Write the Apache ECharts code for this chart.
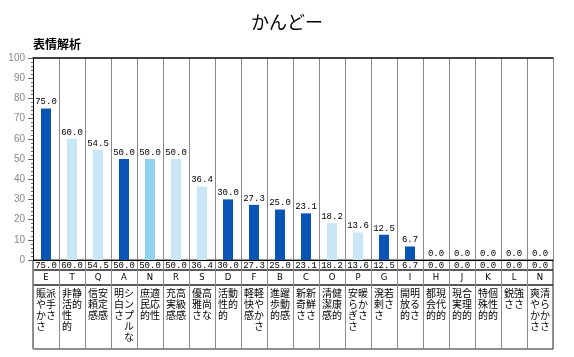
<!DOCTYPE html>
<html><head><meta charset="utf-8">
<script src="https://cdn.jsdelivr.net/npm/echarts@6/dist/echarts.min.js"></script>
<style>html,body{margin:0;padding:0;background:#fff}#c{width:574px;height:357px}</style>
</head><body><div id="c"></div>
<script>
const categories = ['E','T','Q','A','N','R','S','D','F','B','C','O','P','G','I','H','J','K','L','N'];
const values = [75.0,60.0,54.5,50.0,50.0,50.0,36.4,30.0,27.3,25.0,23.1,18.2,13.6,12.5,6.7,0.0,0.0,0.0,0.0,0.0];
const wordA = ['派手さ','静的','安定感','シンプルな','適応性','高級感','高尚な','動的','軽やかさ','躍動感','新鮮さ','健康的','暖かさ','若さ','明るさ','現代的','合理的','個性的','強さ','清らかさ'];
const wordB = ['賑やかさ','非活性的','信頼感','明白さ','庶民的','充実感','優雅さ','活性的','軽快感','進歩的','新奇さ','清潔感','安らぎさ','溌剌さ','開放的','都会的','現実的','特殊的','鋭さ','爽やかさ'];
const yTicks = [0,10,20,30,40,50,60,70,80,90,100];

// style only
const tone = ['d','l','l','d','m','l','l','d','d','d','d','l','l','d','d','d','d','d','d','d'];
const toneColor = {d:'#0a55b4', l:'#c8e6f5', m:'#8fd3f0'};

function vertical(i){
  const a = Array.from(wordA[i]), b = Array.from(wordB[i]);
  const n = Math.max(a.length, b.length);
  const rows = [];
  for (let k=0;k<n;k++) rows.push((b[k]||'\u3000') + (a[k]||'\u3000'));
  return rows.join('\n');
}
const idx = categories.map((_, i) => i);
const L = 33, W = 520;
const mono = 'Liberation Mono';
const cjk = 'Noto Sans CJK JP';

const chart = echarts.init(document.getElementById('c'));
function tableAxis(g, fmt, extra){
  return {
    type:'category', gridIndex:g, data:idx, position:'top', boundaryGap:true,
    axisLine:{show:false}, axisTick:{show:false},
    splitLine:{show:true, interval:0, lineStyle:{color:'#8a8a8a', width:1}},
    axisLabel:Object.assign({inside:true, interval:0, formatter:(v,i)=>fmt(i), verticalAlign:'top', color:'#000'}, extra)
  };
}
chart.setOption({
  animation:false,
  title:[
    {text:'かんどー', left:'center', top:8, textStyle:{fontFamily:cjk, fontSize:18, fontWeight:'normal', color:'#000'}},
    {text:'表情解析', left:28, top:33, textStyle:{fontFamily:cjk, fontSize:12, fontWeight:'bold', color:'#000'}}
  ],
  grid:[
    {left:L, width:W, top:58, height:202, outerBoundsMode:'none'},
    {left:L, width:W, top:260, height:10, show:true, borderColor:'#222', borderWidth:1, outerBoundsMode:'none'},
    {left:L, width:W, top:270, height:15, show:true, borderColor:'#222', borderWidth:1, outerBoundsMode:'none'},
    {left:L, width:W, top:285, height:64, show:true, borderColor:'#222', borderWidth:1, outerBoundsMode:'none'}
  ],
  xAxis:[
    {type:'category', gridIndex:0, data:idx, boundaryGap:true,
      axisLine:{show:true, lineStyle:{color:'#000'}}, axisTick:{show:false}, axisLabel:{show:false},
      splitLine:{show:true, interval:0, lineStyle:{color:'#8a8a8a', width:1}}},
    {type:'category', gridIndex:0, data:idx, position:'top', boundaryGap:true,
      axisLine:{show:true, lineStyle:{color:'#000', width:1.5}}, axisTick:{show:false}, axisLabel:{show:false}, splitLine:{show:false}},
    tableAxis(1, i=>values[i].toFixed(1), {margin:1, fontFamily:mono, fontSize:9}),
    tableAxis(2, i=>categories[i], {margin:3, fontFamily:'DejaVu Sans', fontSize:8.5}),
    tableAxis(3, i=>vertical(i), {margin:3, fontFamily:cjk, fontSize:10, lineHeight:11})
  ],
  yAxis:[
    {type:'value', gridIndex:0, min:0, max:100, interval:10,
      axisLine:{show:true, lineStyle:{color:'#000'}},
      axisTick:{show:true, length:5, lineStyle:{color:'#666'}},
      minorTick:{show:true, splitNumber:5, length:2, lineStyle:{color:'#666'}},
      splitLine:{show:false},
      axisLabel:{color:'#888', fontSize:10, fontFamily:'Liberation Sans', margin:8,
        formatter:v=>yTicks.includes(v)?String(v):''}},
    {type:'value', gridIndex:1, min:0, max:1, show:false},
    {type:'value', gridIndex:2, min:0, max:1, show:false},
    {type:'value', gridIndex:3, min:0, max:1, show:false}
  ],
  series:[{
    type:'bar', xAxisIndex:0, yAxisIndex:0, data:values, barWidth:10,
    itemStyle:{color:p=>toneColor[tone[p.dataIndex]]},
    label:{show:true, position:'top', distance:2, formatter:p=>p.value.toFixed(1), fontFamily:mono, fontSize:9, color:'#000'}
  }]
});
</script></body></html>
